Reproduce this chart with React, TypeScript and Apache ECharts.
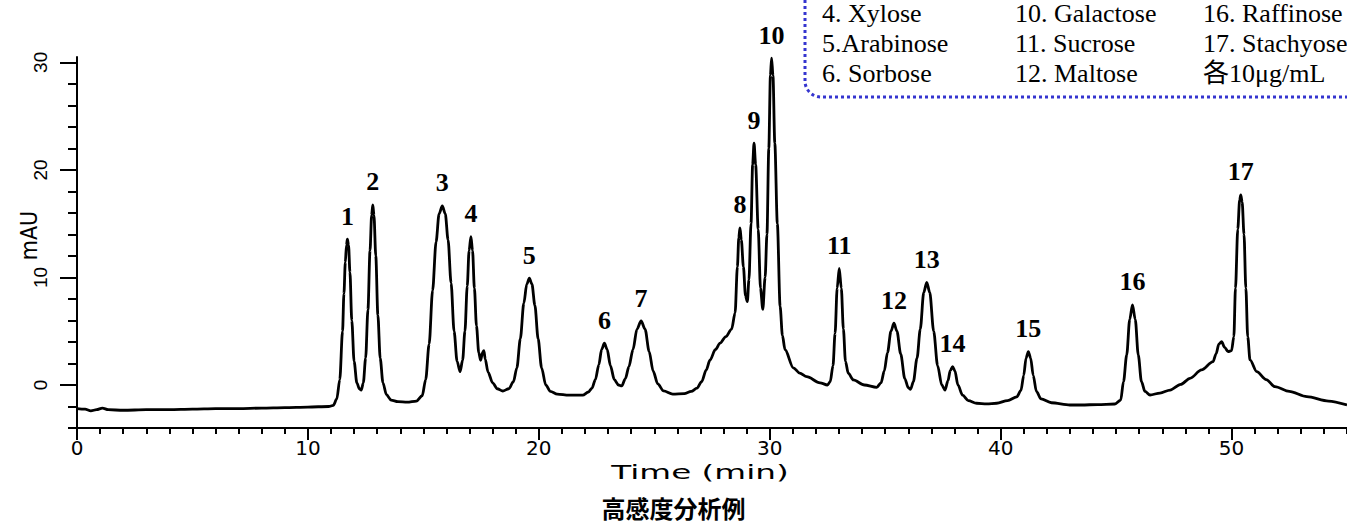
import React, { useEffect, useRef } from "react";
import * as echarts from "echarts";

// Detector trace: [retention time (min), response (mAU)]
const trace: [number, number][] = [
  [0, -2.2], [0.35, -2.25], [0.6, -2.4], [0.85, -2.3], [1.1, -2.15], [1.35, -2.3], [2.0, -2.35],
  [3.0, -2.3], [4.0, -2.3], [5.0, -2.25], [6.0, -2.2], [7.0, -2.2], [8.0, -2.15], [9.0, -2.1],
  [10.0, -2.05], [10.9, -2.0],
  // 1, 2
  [11.1, -1.9], [11.25, -1.3], [11.38, 0.5], [11.5, 5.0], [11.56, 8.5], [11.62, 11.4], [11.67, 13.0],
  [11.71, 13.55], [11.76, 13.0], [11.82, 10.5], [11.9, 6.0], [12.0, 2.2], [12.12, 0.2], [12.23, -0.35],
  [12.31, -0.47], [12.4, 0.2], [12.5, 2.5], [12.6, 7.0], [12.69, 12.5], [12.76, 15.8], [12.81, 16.74],
  [12.86, 15.8], [12.94, 12.0], [13.03, 6.5], [13.13, 2.5], [13.25, 0.2], [13.4, -0.9], [13.6, -1.4],
  [13.9, -1.55], [14.3, -1.6], [14.7, -1.5],
  // 3, 4
  [14.95, -1.0], [15.1, 0.5], [15.25, 3.8], [15.4, 8.8], [15.55, 13.3], [15.68, 15.9], [15.82, 16.65],
  [15.95, 15.9], [16.07, 13.5], [16.2, 9.5], [16.33, 5.0], [16.46, 2.2], [16.59, 1.24], [16.7, 2.3],
  [16.8, 5.0], [16.9, 9.2], [16.98, 12.5], [17.06, 13.8], [17.13, 12.5], [17.21, 9.0], [17.3, 5.5],
  [17.4, 3.0], [17.48, 2.3], [17.56, 3.0], [17.62, 3.2], [17.68, 2.4], [17.8, 1.2], [18.0, 0.2],
  [18.2, -0.35], [18.44, -0.56],
  // 5
  [18.7, -0.35], [18.9, 0.3], [19.05, 1.6], [19.2, 4.3], [19.35, 7.6], [19.48, 9.4], [19.59, 9.93],
  [19.7, 9.4], [19.83, 7.4], [19.97, 4.3], [20.12, 1.6], [20.3, 0.0], [20.5, -0.6], [20.8, -0.85],
  [21.3, -0.95], [21.9, -0.95], [22.15, -0.65],
  // 6, 7
  [22.3, -0.3], [22.45, 0.5], [22.6, 1.9], [22.72, 3.3], [22.84, 3.88], [22.96, 3.3], [23.1, 1.8],
  [23.27, 0.5], [23.45, 0.0], [23.59, -0.09], [23.75, 0.6], [23.9, 1.7], [24.08, 3.3], [24.25, 5.2],
  [24.43, 5.95], [24.6, 5.2], [24.78, 3.1], [24.95, 1.3], [25.15, 0.1], [25.4, -0.55], [25.8, -0.85],
  [26.3, -0.8], [26.6, -0.6],
  // broad hump under 8-10
  [26.85, -0.3], [27.05, 0.3], [27.25, 1.4], [27.41, 2.3], [27.65, 3.3], [27.85, 3.9], [28.1, 4.5],
  [28.35, 5.2], [28.5, 6.7],
  // 8, 9, 10
  [28.6, 11.0], [28.66, 13.7], [28.71, 14.6], [28.77, 13.5], [28.86, 11.0], [28.95, 8.3], [29.03, 7.75],
  [29.1, 9.8], [29.19, 15.0], [29.26, 20.5], [29.32, 22.5], [29.39, 20.5], [29.5, 14.5], [29.6, 9.0],
  [29.7, 7.04], [29.8, 10.0], [29.88, 14.0], [29.96, 22.0], [30.03, 28.8], [30.08, 30.4], [30.14, 28.8],
  [30.22, 22.5], [30.33, 15.0], [30.45, 7.3], [30.55, 4.6], [30.66, 3.3], [31.02, 1.6], [31.3, 1.1],
  [31.6, 0.77], [32.18, 0.2], [32.5, 0.0],
  // 11
  [32.62, 0.3], [32.74, 1.8], [32.83, 4.8], [32.92, 9.0], [33.01, 10.85], [33.1, 9.0], [33.19, 5.2],
  [33.28, 2.2], [33.4, 1.1], [33.62, 0.47], [34.1, 0.0], [34.63, -0.22],
  // 12, 13, 14
  [34.82, 0.2], [34.96, 1.3], [35.1, 3.0], [35.25, 5.0], [35.38, 5.74], [35.51, 5.0], [35.67, 2.9],
  [35.85, 0.6], [36.0, -0.25], [36.1, -0.4], [36.22, 0.3], [36.38, 2.5], [36.52, 5.2], [36.67, 8.6],
  [36.8, 9.55], [36.93, 8.6], [37.1, 5.0], [37.27, 1.8], [37.45, 0.0], [37.59, -0.47], [37.72, 0.4],
  [37.82, 1.35], [37.92, 1.7], [38.02, 1.3], [38.15, 0.0], [38.35, -0.95], [38.6, -1.45], [38.96, -1.7],
  [39.4, -1.75], [39.83, -1.7], [40.3, -1.45], [40.7, -1.1],
  // 15
  [40.88, -0.5], [41.0, 0.9], [41.1, 2.5], [41.2, 3.1], [41.3, 2.5], [41.41, 0.9], [41.55, -0.6],
  [41.75, -1.3], [42.2, -1.65], [43.0, -1.86], [43.5, -1.86], [44.2, -1.82], [44.95, -1.77],
  // 16
  [45.2, -1.4], [45.32, 0.3], [45.46, 2.8], [45.59, 6.1], [45.71, 7.44], [45.83, 6.1], [45.96, 2.8],
  [46.1, 0.3], [46.25, -0.6], [46.47, -0.93],
  // rising background, shoulder and 17
  [46.9, -0.75], [47.34, -0.47], [47.8, 0.05], [48.2, 0.62], [48.7, 1.4], [49.2, 2.17], [49.33, 2.9],
  [49.45, 3.8], [49.57, 4.03], [49.7, 3.5], [49.85, 3.1], [50.0, 3.2], [50.1, 4.5], [50.17, 9.0],
  [50.27, 14.5], [50.35, 17.2], [50.4, 17.67], [50.46, 17.0], [50.54, 14.0], [50.62, 9.0], [50.7, 4.5],
  [50.8, 2.33], [51.09, 1.24], [51.5, 0.5], [51.88, -0.16], [52.5, -0.6], [53.26, -1.09], [54.2, -1.5],
  [55, -1.86],
];

// Peak numbers and their apex retention times
const peakNumbers = ["1", "2", "3", "4", "5", "6", "7", "8", "9", "10", "11", "12", "13", "14", "15", "16", "17"];
const peakTimes = [11.71, 12.81, 15.82, 17.06, 19.59, 22.84, 24.43, 28.71, 29.32, 30.08, 33.01, 35.38, 36.8, 37.92, 41.2, 45.71, 50.4];

// Axis ticks
const xMajorTicks = [0, 10, 20, 30, 40, 50];
const xMinorTicks = [
  0, 1, 2, 3, 4, 5, 6, 7, 8, 9, 10, 11, 12, 13, 14, 15, 16, 17, 18, 19, 20, 21, 22, 23, 24, 25, 26, 27,
  28, 29, 30, 31, 32, 33, 34, 35, 36, 37, 38, 39, 40, 41, 42, 43, 44, 45, 46, 47, 48, 49, 50, 51, 52, 53, 54, 55,
];
const yMajorTicks = [0, 10, 20, 30];
const yMinorTicks = [-4, -2, 0, 2, 4, 6, 8, 10, 12, 14, 16, 18, 20, 22, 24, 26, 28, 30];

// Compound key, one list per column
const keyColumns = [
  ["4. Xylose", "5.Arabinose", "6. Sorbose"],
  ["10. Galactose", "11. Sucrose", "12. Maltose"],
  ["16. Raffinose", "17. Stachyose", "各10μg/mL"],
];

const xAxisName = "Time (min)";
const yAxisName = "mAU";
const chartTitle = "高感度分析例";

const X_MIN = 0;
const X_MAX = 55;
const Y_MIN = -4;
const Y_MAX = 30.5;

const BLACK = "#000";
const axisLineStyle = { color: BLACK, width: 2 };

function apexValue(t: number): number {
  const hit = trace.find((p) => p[0] === t);
  return hit ? hit[1] : 0;
}

function buildOption(): echarts.EChartsCoreOption {
  const keyColX = [822, 1015, 1203];
  const keyRowY = [13, 43, 73];
  const keyTexts: any[] = [];
  keyColumns.forEach((col, ci) =>
    col.forEach((txt, ri) =>
      keyTexts.push({
        type: "text",
        x: keyColX[ci],
        y: keyRowY[ri],
        silent: true,
        style: {
          text: txt,
          fill: BLACK,
          font: '26px "Liberation Serif", "Times New Roman", "Noto Sans CJK JP", serif',
          lineHeight: 22,
          verticalAlign: "middle",
          textAlign: "left",
        },
      })
    )
  );

  return {
    animation: false,
    backgroundColor: "#fff",
    title: {
      text: chartTitle,
      left: "center",
      top: 490,
      textStyle: {
        fontFamily: '"Noto Sans CJK JP", sans-serif',
        fontWeight: "bold",
        fontSize: 24,
        color: BLACK,
      },
    },
    grid: { left: 77, right: 0, top: 57, bottom: 95, outerBoundsMode: "none", containLabel: false },
    xAxis: [
      {
        type: "value",
        min: X_MIN,
        max: X_MAX,
        position: "bottom",
        axisLine: { onZero: false, lineStyle: axisLineStyle },
        axisTick: { customValues: xMajorTicks, length: 12, lineStyle: axisLineStyle },
        axisLabel: {
          customValues: xMajorTicks,
          margin: 10,
          color: BLACK,
          fontFamily: '"DejaVu Sans", sans-serif',
          fontSize: 20,
        },
        splitLine: { show: false },
      },
      {
        type: "value",
        min: X_MIN,
        max: X_MAX,
        position: "bottom",
        axisLine: { show: false, onZero: false },
        axisTick: { customValues: xMinorTicks, length: 6, lineStyle: axisLineStyle },
        axisLabel: { show: false },
        splitLine: { show: false },
      },
    ],
    yAxis: [
      {
        type: "value",
        min: Y_MIN,
        max: Y_MAX,
        position: "left",
        name: yAxisName,
        nameLocation: "middle",
        nameRotate: 90,
        nameGap: 37,
        nameMoveOverlap: false,
        nameTextStyle: {
          fontFamily: '"Liberation Sans Narrow", "DejaVu Sans Condensed", "Liberation Sans", sans-serif',
          fontSize: 23,
          color: BLACK,
          padding: [0, 0, 0, 14],
        },
        axisLine: { onZero: false, lineStyle: axisLineStyle },
        axisTick: { customValues: yMajorTicks, length: 17, lineStyle: axisLineStyle },
        axisLabel: {
          customValues: yMajorTicks,
          rotate: 90,
          margin: 27,
          color: BLACK,
          fontFamily: '"Liberation Sans", Arial, sans-serif',
          fontSize: 19,
        },
        splitLine: { show: false },
      },
      {
        type: "value",
        min: Y_MIN,
        max: Y_MAX,
        position: "left",
        axisLine: { show: false, onZero: false },
        axisTick: { customValues: yMinorTicks, length: 9, lineStyle: axisLineStyle },
        axisLabel: { show: false },
        splitLine: { show: false },
      },
    ],
    series: [
      {
        type: "line",
        data: trace,
        xAxisIndex: 0,
        yAxisIndex: 0,
        showSymbol: false,
        smooth: 0.3,
        smoothMonotone: "x",
        silent: true,
        lineStyle: { color: BLACK, width: 2.8 },
      },
      {
        type: "scatter",
        xAxisIndex: 0,
        yAxisIndex: 0,
        symbolSize: 0,
        silent: true,
        itemStyle: { opacity: 1 },
        data: peakTimes.map((t, i) => ({ name: peakNumbers[i], value: [t, apexValue(t)] })),
        label: {
          show: true,
          position: "top",
          distance: 10,
          formatter: (p: any) => p.name,
          color: BLACK,
          opacity: 1,
          fontFamily: '"Liberation Serif", "Times New Roman", serif',
          fontWeight: "bold",
          fontSize: 26,
        },
      },
    ],
    graphic: [
      {
        type: "rect",
        silent: true,
        shape: { x: 805, y: -40, width: 620, height: 137, r: [0, 0, 0, 16] },
        style: { fill: "none", stroke: "#3535cf", lineWidth: 3, lineDash: [3, 3] },
      },
      ...keyTexts,
      {
        type: "text",
        x: 700,
        y: 472,
        scaleX: 1.72,
        silent: true,
        style: {
          text: xAxisName,
          fill: BLACK,
          font: '19px "DejaVu Sans", sans-serif',
          textAlign: "center",
          verticalAlign: "middle",
        },
      },
    ],
  };
}

export default function App() {
  const ref = useRef<HTMLDivElement>(null);
  useEffect(() => {
    if (!ref.current) return;
    const chart = echarts.init(ref.current, null, { renderer: "svg" });
    chart.setOption(buildOption());
    return () => chart.dispose();
  }, []);
  return (
    <div
      ref={ref}
      style={{ position: "fixed", left: 0, top: 0, width: 1347, height: 523, background: "#fff" }}
    />
  );
}
